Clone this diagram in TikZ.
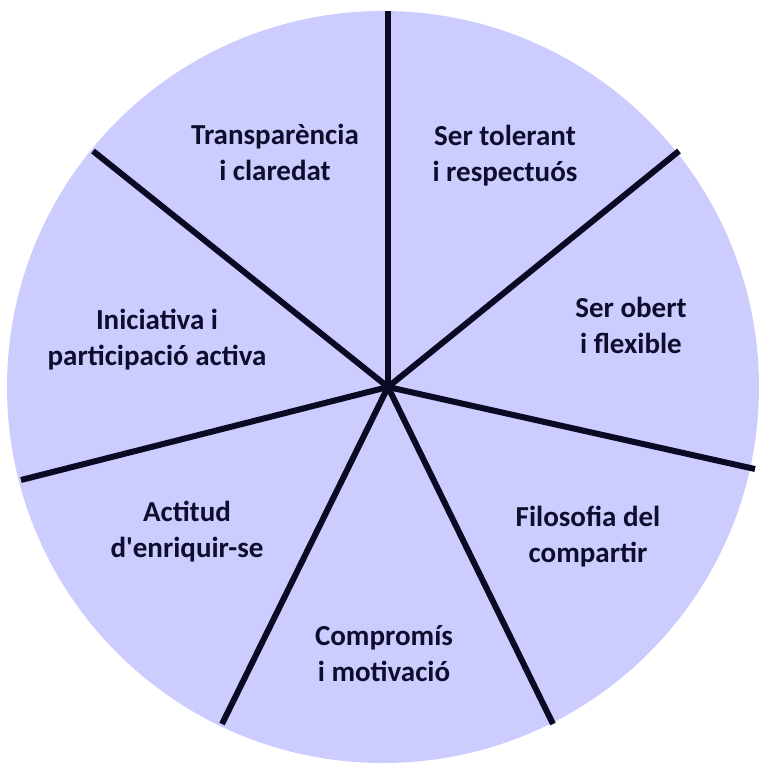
\documentclass[tikz,border=0pt]{standalone}
\usepackage{fontspec}
\setmainfont{Carlito}
\definecolor{pie}{HTML}{CCCCFF}
\definecolor{spoke}{HTML}{0A0A24}
\definecolor{txt}{HTML}{0D0D2E}
\begin{document}
\begin{tikzpicture}[x=1pt,y=-1pt,
  lbl/.style={align=center,font=\fontsize{29}{36}\selectfont\bfseries,text=txt,inner sep=0pt},
  spk/.style={draw=spoke,line width=6pt}]
\useasboundingbox (0,0) rectangle (760,764);
\fill[pie] (383,387) circle (376pt);
\coordinate (c) at (388,387);
\coordinate (e1) at (388,11);
\coordinate (e2) at (679,151);
\coordinate (e3) at (755,469);
\coordinate (e4) at (553,724);
\coordinate (e5) at (222,724);
\coordinate (e6) at (21,480);
\coordinate (e7) at (93,151);
\foreach \i in {1,...,7} \draw[spk] (c) -- (e\i);
\fill[spoke] (c) circle (4pt);
\node[lbl] (t1) at (275,152) {Transparència\\i claredat};
\node[lbl] (t2) at (505,156) {Ser tolerant\\i respectuós};
\node[lbl] (t3) at (631,325) {Ser obert\\i flexible};
\node[lbl] (t4) at (157,340) {Iniciativa i\\participació activa};
\node[lbl] (t5) at (187,532) {Actitud\\d\textquotesingle enriquir-se};
\node[lbl] (t6) at (588,537) {Filosofia del\\compartir};
\node[lbl] (t7) at (384,654) {Compromís\\i motivació};
\end{tikzpicture}
\end{document}
